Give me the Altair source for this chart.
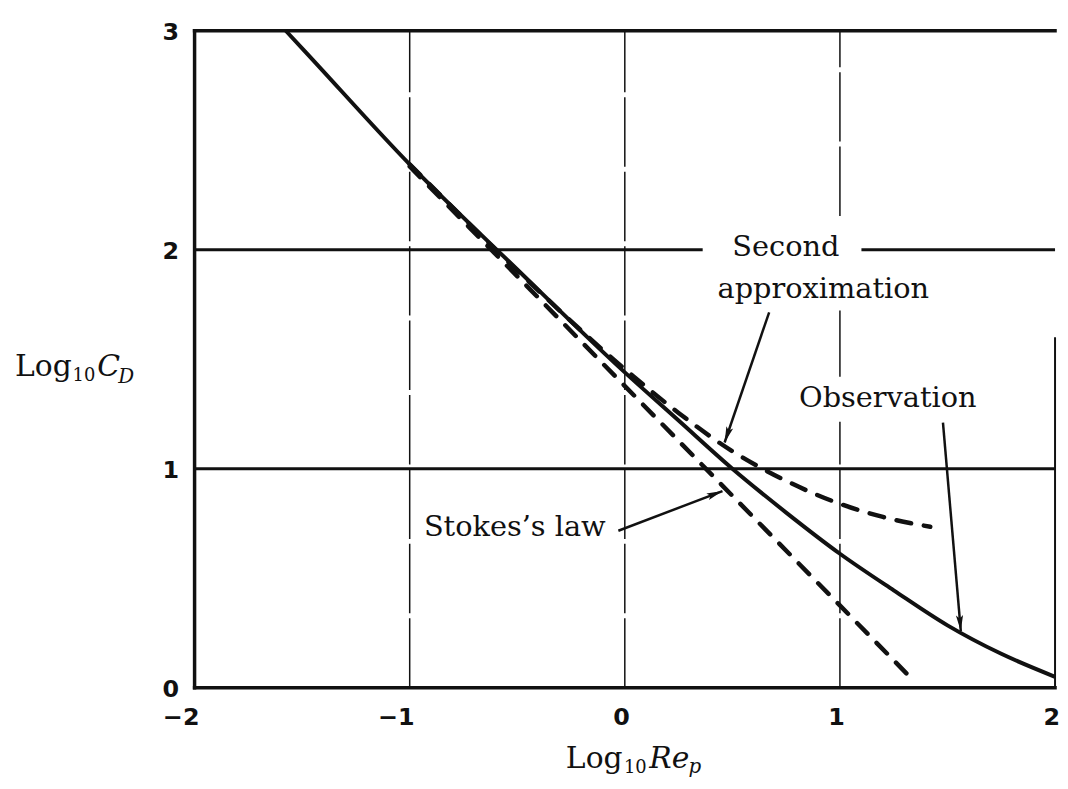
import math
import altair as alt
import pandas as pd

# ---------------- data ----------------
# Stokes's law (dashed straight line)
stokes_x = [-1.0, 1.335]
stokes_y = [2.38, 0.04]
# Second approximation (dashed)
second_x = [-1.0, -0.5, 0.0, 0.25, 0.5, 0.75, 1.0, 1.2, 1.42]
second_y = [2.39, 1.905, 1.455, 1.255, 1.08, 0.945, 0.84, 0.78, 0.735]
# Observation (solid)
obs_x = [-1.576, -1.5, -1.0, -0.5, 0.0, 0.25, 0.5, 0.75, 1.0, 1.25, 1.5, 1.75, 2.0]
obs_y = [3.0, 2.92, 2.39, 1.91, 1.44, 1.22, 1.0, 0.80, 0.612, 0.445, 0.285, 0.155, 0.05]

# tick labels
xtick_vals = [-2, -1, 0, 1, 2]
xtick_text = ["\u22122", "\u22121", "0", "1", "2"]
ytick_vals = [0, 1, 2, 3]
ytick_text = ["0", "1", "2", "3"]

# frame (thick): top, left, bottom
frame_x = [-2, -2, -2]
frame_x2 = [2, -2, 2]
frame_y = [3, 0, 0]
frame_y2 = [3, 3, 0]
# right border (thin, partial)
right_x = [2]
right_y = [0]
right_y2 = [1.60]
# horizontal grid lines (y = 1, y = 2 with a gap for the label)
hgrid_x = [-2, -2, 1.10]
hgrid_x2 = [2, 0.362, 2]
hgrid_y = [1, 2, 2]
# vertical grid lines (x = -1, 0, 1; x = 1 broken by labels)
vgrid_x = [-1, 0, 1, 1, 1]
vgrid_y = [0, 0, 2.154, 1.42, 0]
vgrid_y2 = [3, 3, 3, 1.723, 1.215]

# annotations
ann_text = ["Stokes\u2019s law", "Second", "approximation", "Observation"]
ann_x = [-0.934, 0.50, 0.431, 0.810]
ann_y = [0.694, 1.973, 1.782, 1.283]

# arrows: start -> tip
arr_x = [-0.030, 0.671, 1.479]
arr_y = [0.717, 1.714, 1.211]
arr_tx = [0.454, 0.464, 1.562]
arr_ty = [0.898, 1.120, 0.259]

# axis title pieces
xt_text = ["Log", "10", "Re", "p"]
xt_x = [-0.274, -0.004, 0.114, 0.296]
xt_y = [-0.367, -0.390, -0.367, -0.390]
yt_text = ["Log", "10", "C", "D"]
yt_x = [-2.835, -2.567, -2.452, -2.355]
yt_y = [1.424, 1.401, 1.424, 1.392]

# ---------------- layout ----------------
W, H = 867, 662
INK = "#111111"
SERIF = "DejaVu Serif"

xs = alt.Scale(domain=[-2, 2], nice=False, zero=False)
ys = alt.Scale(domain=[0, 3], nice=False, zero=False)


def X(f="x"):
    return alt.X(f, type="quantitative", scale=xs, axis=None)


def Y(f="y"):
    return alt.Y(f, type="quantitative", scale=ys, axis=None)


px_x = W / 4.0
px_y = H / 3.0

# ---------------- tables ----------------
stokes_df = pd.DataFrame({"x": stokes_x, "y": stokes_y})
second_df = pd.DataFrame({"x": second_x, "y": second_y})
obs_df = pd.DataFrame({"x": obs_x, "y": obs_y})
frame_df = pd.DataFrame({"x": frame_x, "x2": frame_x2, "y": frame_y, "y2": frame_y2})
right_df = pd.DataFrame({"x": right_x, "y": right_y, "y2": right_y2})
hgrid_df = pd.DataFrame({"x": hgrid_x, "x2": hgrid_x2, "y": hgrid_y})
vgrid_df = pd.DataFrame({"x": vgrid_x, "y": vgrid_y, "y2": vgrid_y2})
ann_df = pd.DataFrame({"x": ann_x, "y": ann_y, "t": ann_text})
arr_df = pd.DataFrame({"x": arr_x, "y": arr_y, "x2": arr_tx, "y2": arr_ty})
arr_df["angle"] = [
    (math.degrees(math.atan2((tx - sx) * px_x, (ty - sy) * px_y)) + 360) % 360
    for sx, sy, tx, ty in zip(arr_x, arr_y, arr_tx, arr_ty)
]
xt_df = pd.DataFrame({"x": xt_x, "y": xt_y, "t": xt_text})
yt_df = pd.DataFrame({"x": yt_x, "y": yt_y, "t": yt_text})
xtick_df = pd.DataFrame({"x": xtick_vals, "y": [0] * len(xtick_vals), "t": xtick_text})
ytick_df = pd.DataFrame({"x": [-2] * len(ytick_vals), "y": ytick_vals, "t": ytick_text})

# ---------------- layers ----------------
vgrid = alt.Chart(vgrid_df).mark_rule(color=INK, strokeWidth=1.5, strokeDash=[70, 5]).encode(
    x=X(), y=Y(), y2="y2")
hgrid = alt.Chart(hgrid_df).mark_rule(color=INK, strokeWidth=3).encode(
    x=X(), x2="x2", y=Y())
frame = alt.Chart(frame_df).mark_rule(color=INK, strokeWidth=3.5, strokeCap="square").encode(
    x=X(), x2="x2", y=Y(), y2="y2")
right = alt.Chart(right_df).mark_rule(color=INK, strokeWidth=2).encode(
    x=X(), y=Y(), y2="y2")

stokes = alt.Chart(stokes_df).mark_line(
    color=INK, strokeWidth=4.5, strokeDash=[15, 13], strokeCap="round").encode(x=X(), y=Y())
second = alt.Chart(second_df).mark_line(
    color=INK, strokeWidth=4.5, strokeDash=[15, 13], strokeCap="round",
    interpolate="monotone").encode(x=X(), y=Y())
obs = alt.Chart(obs_df).mark_line(
    color=INK, strokeWidth=4, interpolate="monotone").encode(x=X(), y=Y())

shafts = alt.Chart(arr_df).mark_rule(color=INK, strokeWidth=2.5).encode(
    x=X(), x2="x2", y=Y(), y2="y2")
heads = alt.Chart(arr_df).mark_point(
    shape="M0,0L0.45,2L0,1.6L-0.45,2Z", filled=True, fill=INK, strokeWidth=0,
    size=256, opacity=1).encode(
    x=X("x2"), y=Y("y2"), angle=alt.Angle("angle:Q", scale=None))

ann = alt.Chart(ann_df).mark_text(
    align="left", baseline="alphabetic", font=SERIF, fontSize=29, color=INK).encode(
    x=X(), y=Y(), text="t")


def title_layer(df):
    big = alt.Chart(df).transform_filter("datum.t == 'Log'").mark_text(
        align="left", baseline="alphabetic", font=SERIF, fontSize=30, color=INK).encode(
        x=X(), y=Y(), text="t")
    sub = alt.Chart(df).transform_filter("datum.t == '10'").mark_text(
        align="left", baseline="alphabetic", font=SERIF, fontSize=18, color=INK).encode(
        x=X(), y=Y(), text="t")
    ital = alt.Chart(df).transform_filter("datum.t == 'Re' || datum.t == 'C'").mark_text(
        align="left", baseline="alphabetic", font=SERIF, fontSize=30, fontStyle="italic",
        color=INK).encode(x=X(), y=Y(), text="t")
    isub = alt.Chart(df).transform_filter("datum.t == 'p' || datum.t == 'D'").mark_text(
        align="left", baseline="alphabetic", font=SERIF, fontSize=20, fontStyle="italic",
        color=INK).encode(x=X(), y=Y(), text="t")
    return [big, sub, ital, isub]


xticks = alt.Chart(xtick_df).mark_text(
    align="right", baseline="middle", dx=5, dy=31, font="DejaVu Sans", fontWeight="bold",
    fontSize=24, color=INK).encode(x=X(), y=Y(), text="t")
yticks = alt.Chart(ytick_df).mark_text(
    align="center", baseline="middle", dx=-24, dy=2, font="DejaVu Sans", fontWeight="bold",
    fontSize=24, color=INK).encode(x=X(), y=Y(), text="t")

chart = alt.layer(
    vgrid, hgrid, right, frame, stokes, second, obs, shafts, heads, ann,
    *title_layer(xt_df), *title_layer(yt_df), xticks, yticks,
).properties(
    width=W, height=H,
    padding={"left": 188, "top": 20, "right": 5, "bottom": 91},
    autosize=alt.AutoSizeParams(type="none"),
    background="white",
).configure_view(stroke=None)

chart.save("out.html", embed_options={"renderer": "svg", "actions": False})
